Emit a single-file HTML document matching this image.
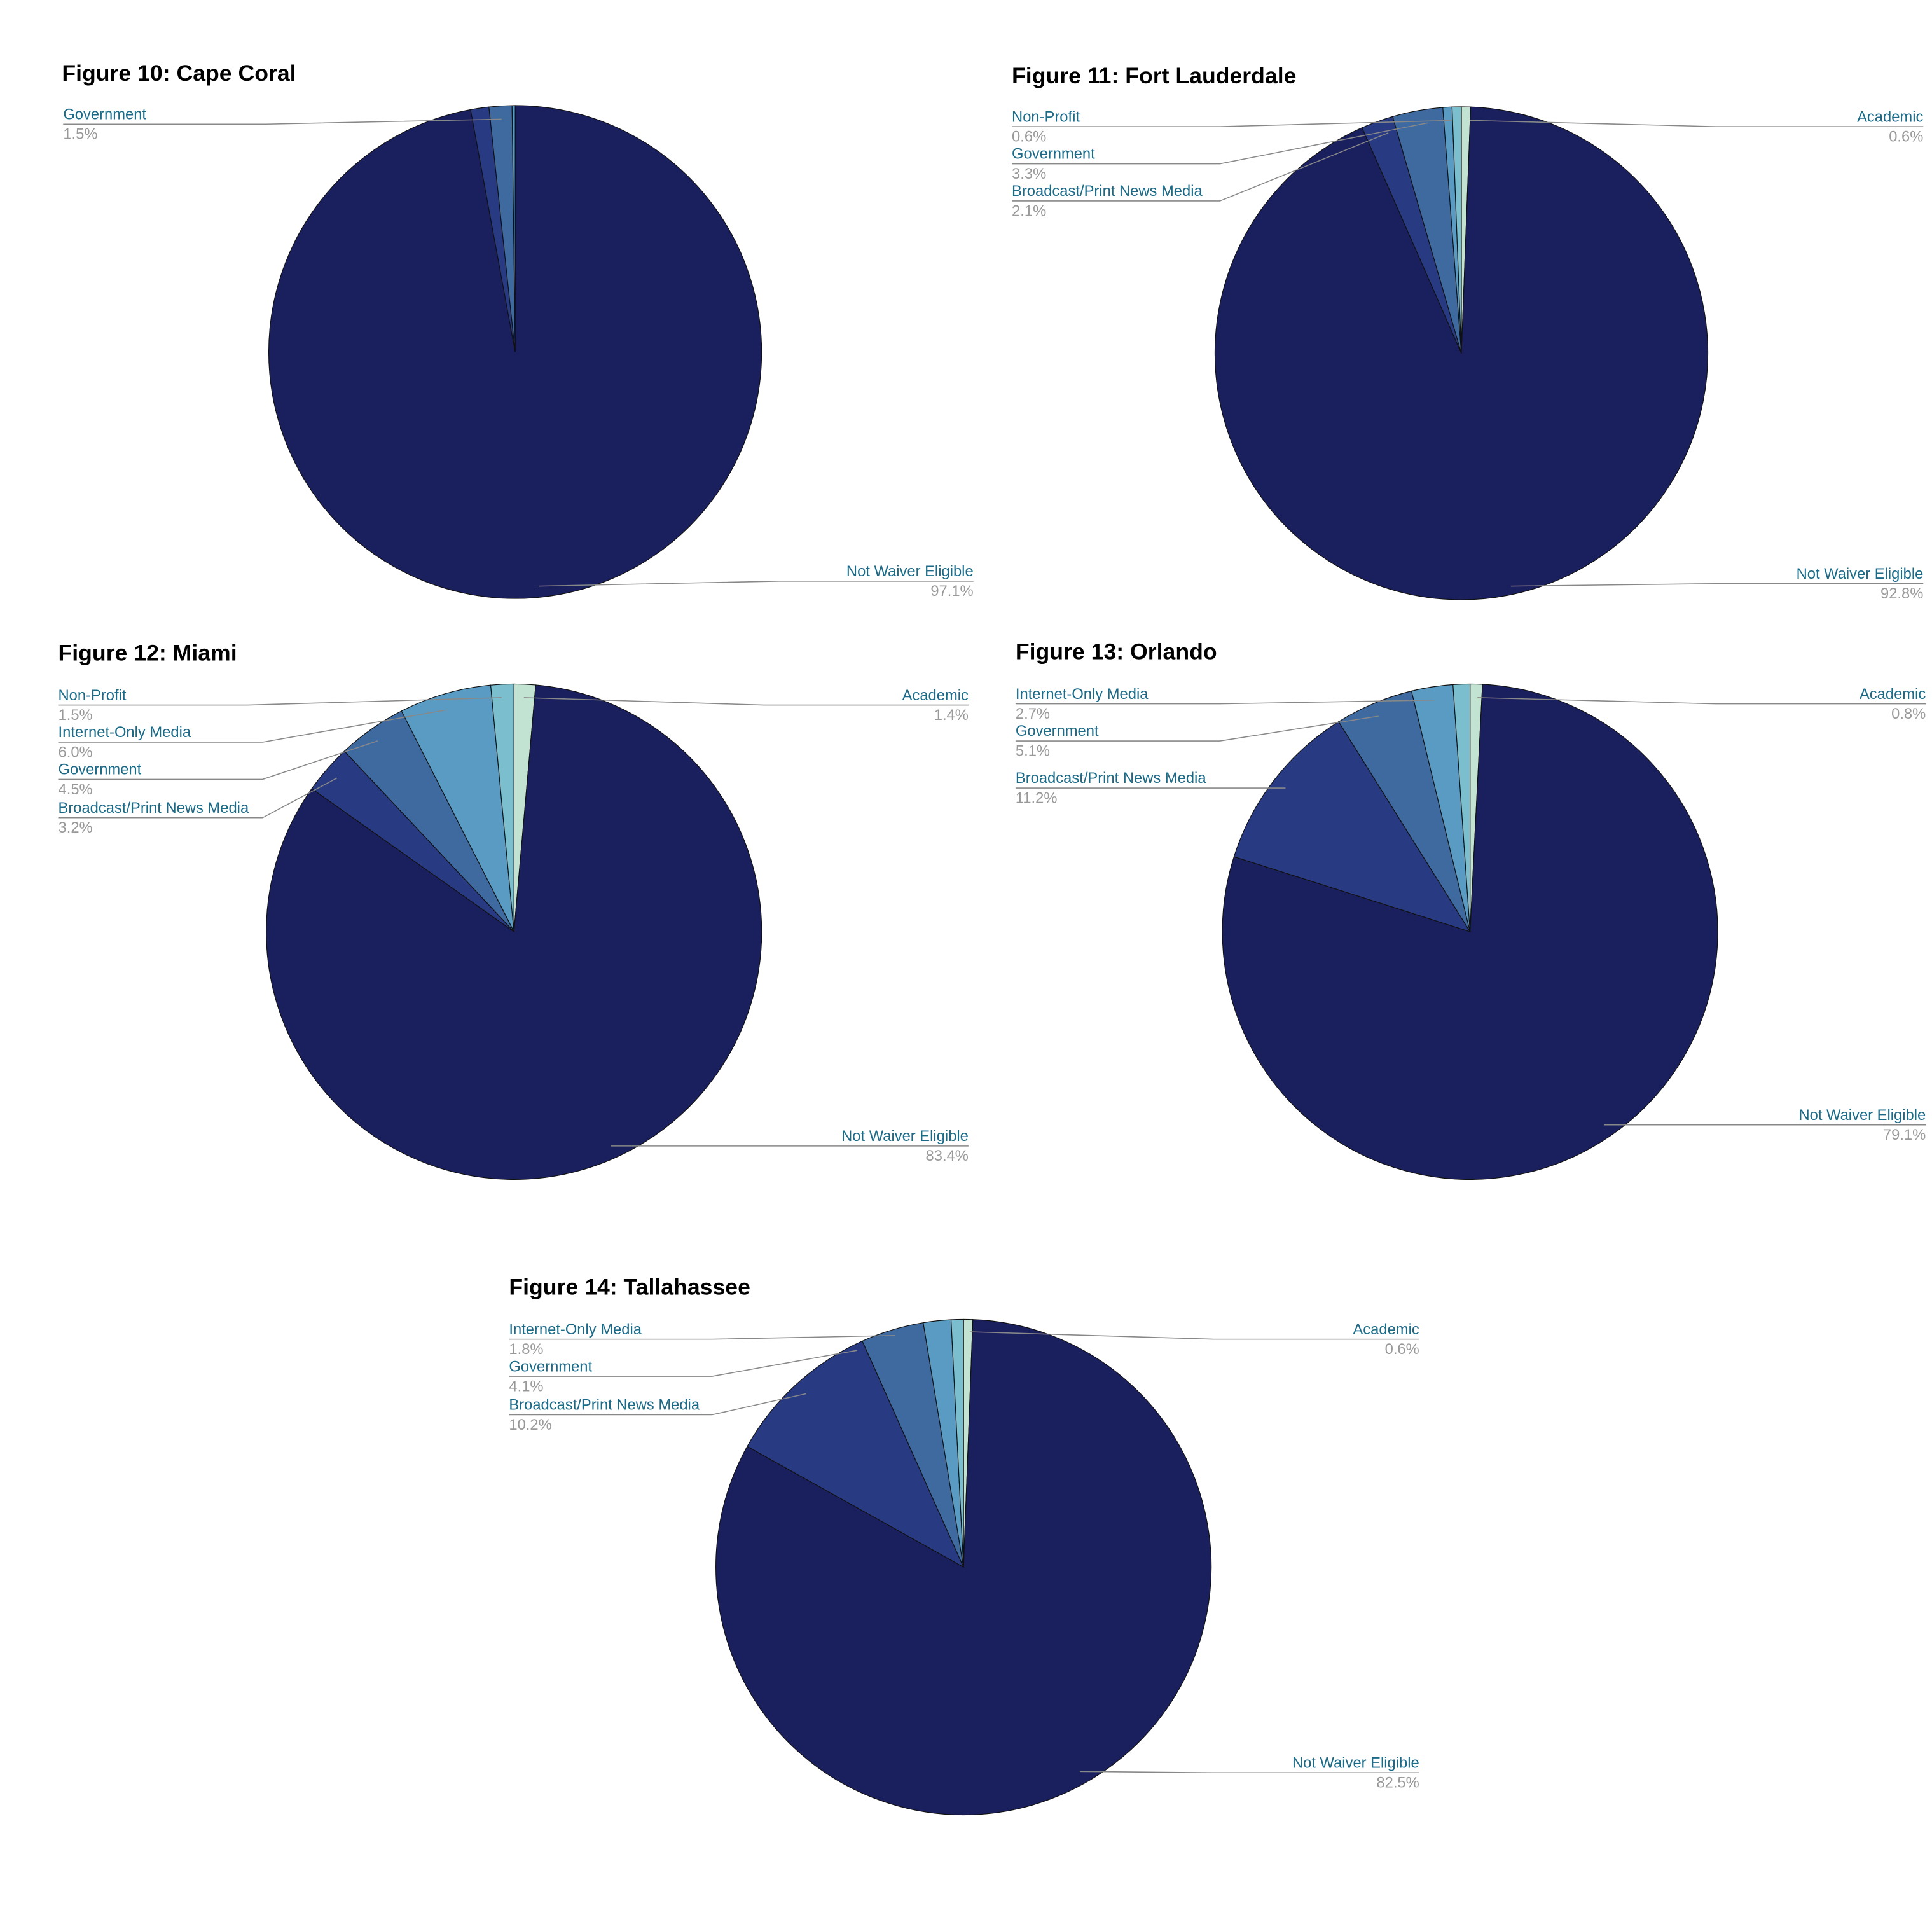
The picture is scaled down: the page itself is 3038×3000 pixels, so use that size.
<!DOCTYPE html>
<html><head><meta charset="utf-8"><style>
html,body{margin:0;padding:0;background:#fff;}
svg{display:block;}
.t{font-family:"Liberation Sans",Arial,sans-serif;font-weight:bold;font-size:18.3px;fill:#000;}
.l{font-family:"Liberation Sans",Arial,sans-serif;font-size:12.2px;fill:#1a6a88;}
.p{font-family:"Liberation Sans",Arial,sans-serif;font-size:12.2px;fill:#999;}
.ln{stroke:#888;stroke-width:0.8;fill:none;}
</style></head><body>
<svg id="s" width="3038" height="3000" viewBox="0 0 1560 1540" xmlns="http://www.w3.org/2000/svg">
<rect width="1560" height="1540" fill="#fff"/>
<g id="pies"></g>
<text class="t" x="50" y="65">Figure 10: Cape Coral</text>
<text class="l" x="51" y="96">Government</text>
<text class="p" x="51" y="112">1.5%</text>
<polyline class="ln" points="51,100 215,100 405,96"/>
<text class="l" x="786" y="465" text-anchor="end">Not Waiver Eligible</text>
<text class="p" x="786" y="481" text-anchor="end">97.1%</text>
<polyline class="ln" points="786,469 630,469 435,473"/>
<text class="t" x="817" y="67">Figure 11: Fort Lauderdale</text>
<text class="l" x="817" y="98">Non-Profit</text><text class="p" x="817" y="114">0.6%</text>
<polyline class="ln" points="817,102 985,102 1172,97"/>
<text class="l" x="817" y="128">Government</text><text class="p" x="817" y="144">3.3%</text>
<polyline class="ln" points="817,132 985,132 1153,99"/>
<text class="l" x="817" y="158">Broadcast/Print News Media</text><text class="p" x="817" y="174">2.1%</text>
<polyline class="ln" points="817,162 985,162 1121,107"/>
<text class="l" x="1553" y="98" text-anchor="end">Academic</text><text class="p" x="1553" y="114" text-anchor="end">0.6%</text>
<polyline class="ln" points="1553,102 1385,102 1187,97"/>
<text class="l" x="1553" y="467" text-anchor="end">Not Waiver Eligible</text><text class="p" x="1553" y="483" text-anchor="end">92.8%</text>
<polyline class="ln" points="1553,471 1385,471 1220,473"/>
<text class="t" x="47" y="533">Figure 12: Miami</text>
<text class="l" x="47" y="565">Non-Profit</text><text class="p" x="47" y="581">1.5%</text>
<polyline class="ln" points="47,569 200,569 405,563"/>
<text class="l" x="47" y="595">Internet-Only Media</text><text class="p" x="47" y="611">6.0%</text>
<polyline class="ln" points="47,599 212,599 360,573"/>
<text class="l" x="47" y="625">Government</text><text class="p" x="47" y="641">4.5%</text>
<polyline class="ln" points="47,629 212,629 305,598"/>
<text class="l" x="47" y="656">Broadcast/Print News Media</text><text class="p" x="47" y="672">3.2%</text>
<polyline class="ln" points="47,660 212,660 272,628"/>
<text class="l" x="782" y="565" text-anchor="end">Academic</text><text class="p" x="782" y="581" text-anchor="end">1.4%</text>
<polyline class="ln" points="782,569 617,569 423,563"/>
<text class="l" x="782" y="921" text-anchor="end">Not Waiver Eligible</text><text class="p" x="782" y="937" text-anchor="end">83.4%</text>
<polyline class="ln" points="782,925 617,925 493,925"/>
<text class="t" x="820" y="532">Figure 13: Orlando</text>
<text class="l" x="820" y="564">Internet-Only Media</text><text class="p" x="820" y="580">2.7%</text>
<polyline class="ln" points="820,568 985,568 1158,565"/>
<text class="l" x="820" y="594">Government</text><text class="p" x="820" y="610">5.1%</text>
<polyline class="ln" points="820,598 985,598 1113,578"/>
<text class="l" x="820" y="632">Broadcast/Print News Media</text><text class="p" x="820" y="648">11.2%</text>
<polyline class="ln" points="820,636 1038,636"/>
<text class="l" x="1555" y="564" text-anchor="end">Academic</text><text class="p" x="1555" y="580" text-anchor="end">0.8%</text>
<polyline class="ln" points="1555,568 1385,568 1193,563"/>
<text class="l" x="1555" y="904" text-anchor="end">Not Waiver Eligible</text><text class="p" x="1555" y="920" text-anchor="end">79.1%</text>
<polyline class="ln" points="1555,908 1295,908"/>
<text class="t" x="411" y="1045">Figure 14: Tallahassee</text>
<text class="l" x="411" y="1077">Internet-Only Media</text><text class="p" x="411" y="1093">1.8%</text>
<polyline class="ln" points="411,1081 575,1081 723,1078"/>
<text class="l" x="411" y="1107">Government</text><text class="p" x="411" y="1123">4.1%</text>
<polyline class="ln" points="411,1111 575,1111 692,1090"/>
<text class="l" x="411" y="1138">Broadcast/Print News Media</text><text class="p" x="411" y="1154">10.2%</text>
<polyline class="ln" points="411,1142 575,1142 651,1125"/>
<text class="l" x="1146" y="1077" text-anchor="end">Academic</text><text class="p" x="1146" y="1093" text-anchor="end">0.6%</text>
<polyline class="ln" points="1146,1081 980,1081 783,1075"/>
<text class="l" x="1146" y="1427" text-anchor="end">Not Waiver Eligible</text><text class="p" x="1146" y="1443" text-anchor="end">82.5%</text>
<polyline class="ln" points="1146,1431 980,1431 872,1430"/>
</svg>
<script>
var cols=["#c2e2d2","#1a1f5e","#283a82","#3f6aa0","#5a9bc4","#7bbfcf"];
var pies=[
 [416,284,199,[0,97.1,1.2,1.5,0.2,0]],
 [1180,285,199,[0.6,92.8,2.1,3.3,0.6,0.6]],
 [415,752,200,[1.4,83.4,3.2,4.5,6.0,1.5]],
 [1187,752,200,[0.8,79.1,11.2,5.1,2.7,1.1]],
 [778,1265,200,[0.6,82.5,10.2,4.1,1.8,0.8]]
];
var g=document.getElementById("pies"),h="";
pies.forEach(function(p){
 var cx=p[0],cy=p[1],r=p[2],a=0;
 p[3].forEach(function(v,i){
  if(v<=0)return;
  var a0=a/100*2*Math.PI,a1=(a+v)/100*2*Math.PI;a+=v;
  var x0=cx+r*Math.sin(a0),y0=cy-r*Math.cos(a0),x1=cx+r*Math.sin(a1),y1=cy-r*Math.cos(a1);
  var large=(a1-a0)>Math.PI?1:0;
  h+='<path d="M'+cx+','+cy+' L'+x0.toFixed(2)+','+y0.toFixed(2)+' A'+r+','+r+' 0 '+large+' 1 '+x1.toFixed(2)+','+y1.toFixed(2)+' Z" fill="'+cols[i]+'" stroke="#111" stroke-width="0.6"/>';
 });
});
g.innerHTML=h;
</script>
</body></html>
